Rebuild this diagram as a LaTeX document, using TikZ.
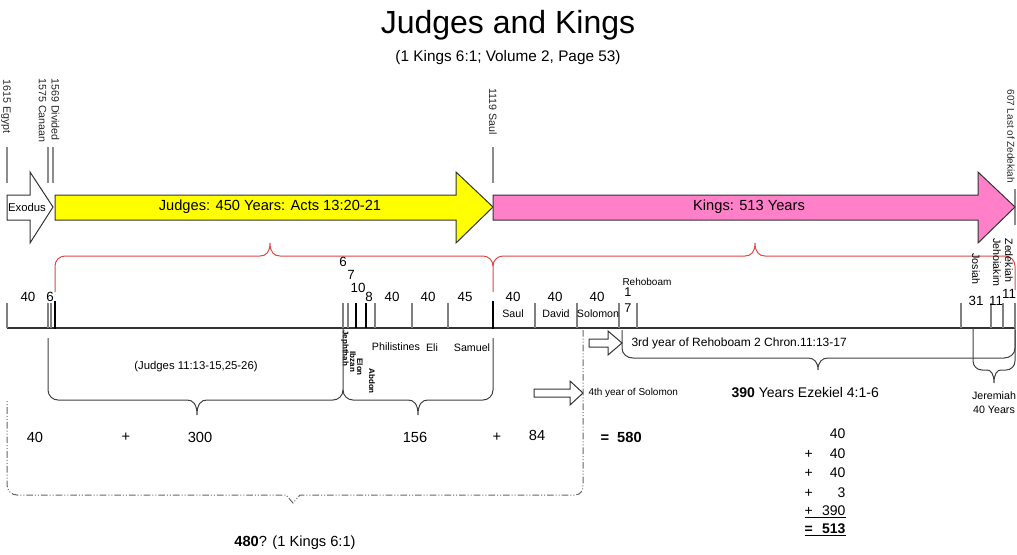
\documentclass[tikz,border=0pt]{standalone}
\usepackage{fontspec}
\setmainfont{Liberation Sans}
\definecolor{judgesYellow}{RGB}{255,255,0}
\definecolor{kingsPink}{RGB}{255,128,200}
\definecolor{braceRed}{RGB}{225,70,70}
\tikzset{every picture/.style={line width=0.75pt}}
\tikzset{
  datetick/.style={draw=black!45, line width=0.9pt},
  yeartick/.style={draw=black!50, line width=0.9pt},
  darktick/.style={draw=black, line width=0.9pt},
  boldtick/.style={draw=black, line width=2.2pt},
  timeline/.style={draw=black!80, line width=0.9pt},
  bracket/.style={draw=black!75, line width=0.75pt},
  redbrace/.style={draw=braceRed, line width=0.75pt},
  bigarrow/.style={draw=black!80, line width=0.75pt},
  dashdot/.style={draw=black!60, line width=0.75pt, dash pattern={on 5pt off 1.5pt on 0.75pt off 1.5pt on 0.75pt off 1.5pt}},
  datelbl/.style={rotate=-90, anchor=west, inner sep=0.75pt, text=black!85, font=\fontsize{8}{9.5}\selectfont},
  judgelbl/.style={rotate=-90, anchor=west, inner sep=0.75pt, font=\bfseries\fontsize{6}{7}\selectfont},
  kinglbl/.style={rotate=-90, anchor=west, inner sep=0.75pt, font=\fontsize{8}{9}\selectfont},
  yearslbl/.style={inner sep=0.75pt, font=\fontsize{10}{12}\selectfont},
  reignlbl/.style={inner sep=0.75pt, font=\fontsize{8}{10}\selectfont},
  sumlbl/.style={inner sep=0.75pt, font=\fontsize{11}{13}\selectfont},
  totallbl/.style={anchor=east, inner sep=0.75pt, font=\fontsize{10.5}{12}\selectfont},
}

\begin{document}
\begin{tikzpicture}[x=0.75pt,y=0.75pt,yscale=-1,xscale=1]
\useasboundingbox (0,0) rectangle (1017,554);

% Title
\node[inner sep=0pt, font=\fontsize{24}{28}\selectfont] (title) at (508,25) {Judges and Kings};
\node[inner sep=0pt, font=\fontsize{11.5}{13}\selectfont] (subtitle) at (508,58) {(1 Kings 6:1; Volume 2, Page 53)};

% Date markers
\foreach \x in {7,48,53,493} \draw[datetick] (\x,147) -- (\x,183);
\draw[datetick] (1015,189) -- (1015,225);
\node[datelbl] (egypt) at (6,78) {1615 Egypt};
\node[datelbl, align=left] (canaan) at (49,77) {1569 Divided\\1575 Canaan};
\node[datelbl] (saul) at (493,87) {1119 Saul};
\node[datelbl, font=\fontsize{7.5}{9}\selectfont] (zedekiah) at (1011,88) {607 Last of Zedekiah};

%Block Arrows
\draw[bigarrow, fill=white] (7,195) -- (30,195) -- (30,172) -- (53,207) -- (30,243) -- (30,220) -- (7,220) -- cycle;
\draw[bigarrow, fill=judgesYellow] (55,195) -- (456,195) -- (456,172) -- (493,207) -- (456,243) -- (456,220) -- (55,220) -- cycle;
\draw[bigarrow, fill=kingsPink] (493,195) -- (978,195) -- (978,172) -- (1015,207) -- (978,243) -- (978,220) -- (493,220) -- cycle;
\node[inner sep=0pt, font=\fontsize{8.5}{10}\selectfont] (exodus) at (27,207) {Exodus};
\node[inner sep=0pt, font=\fontsize{11}{13}\selectfont] (judges) at (270,207) {Judges: 450 Years: Acts 13:20-21};
\node[inner sep=0pt, font=\fontsize{11}{13}\selectfont] (kings) at (749,207) {Kings: 513 Years};

%Red braces
\draw[redbrace] (55,292) -- (55,266) .. controls (55,260.5) and (59.5,256) .. (65,256) -- (260,256) .. controls (266,256) and (270,252) .. (270,243) .. controls (270,252) and (274,256) .. (280,256) -- (483,256) .. controls (488.5,256) and (493,260.5) .. (493,266) -- (493,292);
\draw[redbrace] (493,266) .. controls (493,260.5) and (497.5,256) .. (503,256) -- (745,256) .. controls (751,256) and (755,252) .. (755,243) .. controls (755,252) and (759,256) .. (765,256) -- (1005,256) .. controls (1010.5,256) and (1015,260.5) .. (1015,266) -- (1015,290);

% Timeline
\draw[timeline] (7,328) -- (1015,328);
\foreach \x in {7,48,51,343,348,375,412,448,535,577,619,637,961,991,1003,1015} \draw[yeartick] (\x,303) -- (\x,328);
\foreach \x in {356,366} \draw[darktick] (\x,303) -- (\x,328);
\foreach \x in {55,493} \draw[boldtick] (\x,301) -- (\x,329);

% Years of each period
\foreach \x/\y/\t [count=\i] in {28/297/40, 50/297/6, 343/262/6, 351/275/7, 358/288/10, 369/297/8, 392/297/40, 428/297/40, 465/297/45, 513/297/40, 555/297/40, 597/297/40, 976/301/31, 996/301/11, 1009/294/11}
  \node[yearslbl] (yr\i) at (\x,\y) {\t};
\node[yearslbl, align=center, font=\fontsize{9.5}{12.5}\selectfont] (rehoyrs) at (628,300) {1\\7};

% Names
\node[reignlbl] (saulname) at (513,314) {Saul};
\node[reignlbl] (davidname) at (556,314) {David};
\node[reignlbl] (solomonname) at (598,314) {Solomon};
\node[reignlbl, anchor=west, font=\fontsize{7.5}{9}\selectfont] (rehoboam) at (621,282) {Rehoboam};
\node[reignlbl] (philistines) at (396,347) {Philistines};
\node[reignlbl] (eli) at (432,348) {Eli};
\node[reignlbl] (samuel) at (472,348) {Samuel};
\node[judgelbl] (jephthah) at (345,329) {Jephthah};
\node[judgelbl] (ibzan) at (353,350) {Ibzan};
\node[judgelbl] (elon) at (360,357) {Elon};
\node[judgelbl] (abdon) at (372,367) {Abdon};
\node[kinglbl] (josiah) at (976,252) {Josiah};
\node[kinglbl] (jehoiakim) at (997,237) {Jehoiakim};
\node[kinglbl] (zedekiahname) at (1009,237) {Zedekiah};

%Judges braces
\draw[bracket] (48,338) -- (48,390) .. controls (48,395.5) and (52.5,400) .. (58,400) -- (187,400) .. controls (193,400) and (197,404) .. (197,415) .. controls (197,404) and (201,400) .. (207,400) -- (333,400) .. controls (338.5,400) and (343,395.5) .. (343,390) -- (343,328);
\draw[bracket] (343,390) .. controls (343,395.5) and (347.5,400) .. (353,400) -- (408,400) .. controls (414,400) and (418,404) .. (418,415) .. controls (418,404) and (422,400) .. (428,400) -- (483,400) .. controls (488.5,400) and (493,395.5) .. (493,390) -- (493,338);
\node[inner sep=0pt, font=\fontsize{8.5}{10}\selectfont] (judgesref) at (196,367) {(Judges 11:13-15,25-26)};

%Rehoboam and Jeremiah braces
\draw[bracket] (622,330) -- (622,348) .. controls (622,354) and (627,358) .. (633,358) -- (808,358) .. controls (814,358) and (818,362) .. (818,370) .. controls (818,362) and (822,358) .. (828,358) -- (1004,358) .. controls (1010,358) and (1015,354) .. (1015,348) -- (1015,330);
\draw[bracket] (973,328) -- (973,361) .. controls (973,366) and (977,370) .. (982,370) -- (987,370) .. controls (991,370) and (994,374) .. (994,383) .. controls (994,374) and (997,370) .. (1001,370) -- (1006,370) .. controls (1011,370) and (1015,366) .. (1015,361) -- (1015,328);
\node[inner sep=0pt, align=center, font=\fontsize{8}{10.5}\selectfont] (jeremiah) at (994,403) {Jeremiah\\40 Years};

%Small arrows
\draw[bigarrow, fill=white] (589,339) -- (608,339) -- (608,331) -- (622,343) -- (608,355) -- (608,347) -- (589,347) -- cycle;
\draw[bigarrow, fill=white] (534,389) -- (570,389) -- (570,381) -- (583,393) -- (570,405) -- (570,397) -- (534,397) -- cycle;
\node[anchor=west, inner sep=0pt, font=\fontsize{9}{11}\selectfont] (rehoref) at (631,343) {3rd year of Rehoboam 2 Chron.11:13-17};
\node[anchor=west, inner sep=0pt, font=\fontsize{7.5}{9}\selectfont] (solomonref) at (588,393) {4th year of Solomon};
\node[anchor=west, inner sep=0pt, font=\fontsize{10.5}{12}\selectfont] (ezekiel) at (731,392) {\textbf{390} Years Ezekiel 4:1-6};

%Dash-dot frame
\draw[dashdot] (583,330) -- (583,485) .. controls (583,490.5) and (580.5,495) .. (575,495) -- (300,495) -- (293,503) -- (286,495) -- (17,495) .. controls (11.5,495) and (7,490.5) .. (7,485) -- (7,400);

% Sum of years
\node[sumlbl] (s40) at (35,437) {40};
\node[sumlbl] (plusa) at (126,437) {+};
\node[sumlbl] (s300) at (200,437) {300};
\node[sumlbl] (s156) at (415,437) {156};
\node[sumlbl] (plusb) at (497,437) {+};
\node[sumlbl] (s84) at (537,435) {84};
\node[sumlbl, anchor=west] (s580) at (599,437) {\textbf{=\ \ 580}};
\node[sumlbl] (kingsref) at (295,543) {\textbf{480}? (1 Kings 6:1)};

% Kings total
\node[totallbl] (k1) at (847,434) {\makebox[30.75pt][r]{40}};
\node[totallbl] (k2) at (847,454) {\makebox[30.75pt]{+\hfill 40}};
\node[totallbl] (k3) at (847,473) {\makebox[30.75pt]{+\hfill 40}};
\node[totallbl] (k4) at (847,493) {\makebox[30.75pt]{+\hfill 3}};
\node[totallbl] (k5) at (847,512) {\underline{\makebox[30.75pt]{+\hfill 390}}};
\node[totallbl] (k6) at (847,530) {\underline{\makebox[30.75pt]{\bfseries =\hfill 513}}};

\end{tikzpicture}
\end{document}
